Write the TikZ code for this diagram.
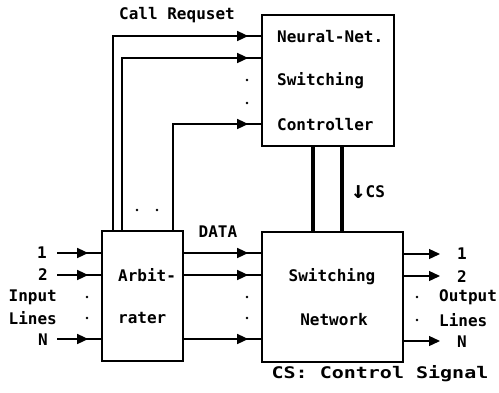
\documentclass[tikz,border=0pt]{standalone}
\usepackage{fontspec}
\setmonofont{DejaVu Sans Mono}
\newfontfamily\symf{DejaVu Sans Mono}
\usetikzlibrary{arrows.meta,decorations.markings}
\tikzset{
  box/.style={draw, line width=1.6pt, inner sep=0pt},
  lbl/.style={font=\ttfamily\bfseries\fontsize{16}{18}\selectfont, inner sep=0pt},
  wire/.style={line width=1.3pt},
  thickwire/.style={line width=4.5pt},
  tri/.style={postaction={decorate}, decoration={markings, mark=at position #1 with {\arrow{Triangle[length=11pt,width=10pt]}}}},
  endtri/.style={-{Triangle[length=11pt,width=10pt]}},
  pt/.style={circle, fill, inner sep=0pt, minimum size=2.8pt}
}
\begin{document}
\begin{tikzpicture}[x=1pt,y=-1pt]
\useasboundingbox (0,0) rectangle (499,392);
% boxes
\node[box, minimum width=132pt, minimum height=131pt] (ctl) at (328,80.5) {};
\node[box, minimum width=141pt, minimum height=130pt] (net) at (332.5,297) {};
\node[box, minimum width=81pt, minimum height=130pt] (arb) at (142.5,296) {};
% box texts
\node[lbl, anchor=west] (c1) at (277,37) {Neural-Net.};
\node[lbl, anchor=west] (c2) at (277,81) {Switching};
\node[lbl, anchor=west] (c3) at (277,125) {Controller};
\node[lbl, anchor=west] (a1) at (118,275) {Arbit-};
\node[lbl, anchor=west] (a2) at (118,318) {rater};
\node[lbl] (n1) at (332,277) {Switching};
\node[lbl] (n2) at (334,320) {Network};
% call request lines
\node[lbl] (callreq) at (177,15) {Call Requset};
\coordinate (r1) at (113,36);
\coordinate (r2) at (122,58);
\coordinate (r3) at (173,124);
\draw[wire, tri=-13pt] (arb.north -| r1) |- (ctl.west |- r1);
\draw[wire, tri=-13pt] (arb.north -| r2) |- (ctl.west |- r2);
\draw[wire, tri=-13pt] (arb.north -| r3) |- (ctl.west |- r3);
\node[pt] (rd1) at (247,80) {};
\node[pt] (rd2) at (247,103) {};
\node[pt] (ad1) at (137,210) {};
\node[pt] (ad2) at (157,210) {};
% control signal
\coordinate (cs1) at (313,0);
\coordinate (cs2) at (342,0);
\draw[thickwire] (ctl.south -| cs1) -- (net.north -| cs1);
\draw[thickwire] (ctl.south -| cs2) -- (net.north -| cs2);
\node[lbl, anchor=west] (cs) at (351,192) {\raisebox{-1.5pt}{\fontsize{24}{24}\selectfont ↓}CS};
% inputs
\coordinate (i1) at (57,253);
\coordinate (i2) at (57,275);
\coordinate (iN) at (57,339);
\draw[wire, tri=-13pt] (i1) -- (arb.west |- i1);
\draw[wire, tri=-13pt] (i2) -- (arb.west |- i2);
\draw[wire, tri=-13pt] (iN) -- (arb.west |- iN);
\node[lbl] (l1) at (42,253) {1};
\node[lbl] (l2) at (43,275) {2};
\node[lbl, anchor=east] (linput) at (57,297) {Input};
\node[lbl, anchor=east] (llines) at (57,318) {Lines};
\node[lbl] (lN) at (43,340) {N};
\node[pt] (id1) at (87,297) {};
\node[pt] (id2) at (87,318) {};
% data lines
\node[lbl] (data) at (218,232) {DATA};
\coordinate (d1) at (0,253);
\coordinate (d2) at (0,275);
\coordinate (dN) at (0,339);
\draw[wire, tri=-13pt] (arb.east |- d1) -- (net.west |- d1);
\draw[wire, tri=-13pt] (arb.east |- d2) -- (net.west |- d2);
\draw[wire, tri=-13pt] (arb.east |- dN) -- (net.west |- dN);
\node[pt] (dd1) at (247,297) {};
\node[pt] (dd2) at (247,318) {};
% outputs
\coordinate (o1) at (440,254);
\coordinate (o2) at (440,276);
\coordinate (oN) at (440,341);
\draw[wire, endtri] (net.east |- o1) -- (o1);
\draw[wire, endtri] (net.east |- o2) -- (o2);
\draw[wire, endtri] (net.east |- oN) -- (oN);
\node[lbl] (r1l) at (462,254) {1};
\node[lbl] (r2l) at (462,277) {2};
\node[lbl, anchor=west] (routput) at (439,297) {Output};
\node[lbl, anchor=west] (rlines) at (439,320) {Lines};
\node[lbl] (rNl) at (462,342) {N};
\node[pt] (od1) at (417,297) {};
\node[pt] (od2) at (417,320) {};
% caption
\node[lbl] (cap) at (380,374) {\scalebox{1.25}[1]{CS: Control Signal}};
\end{tikzpicture}
\end{document}
